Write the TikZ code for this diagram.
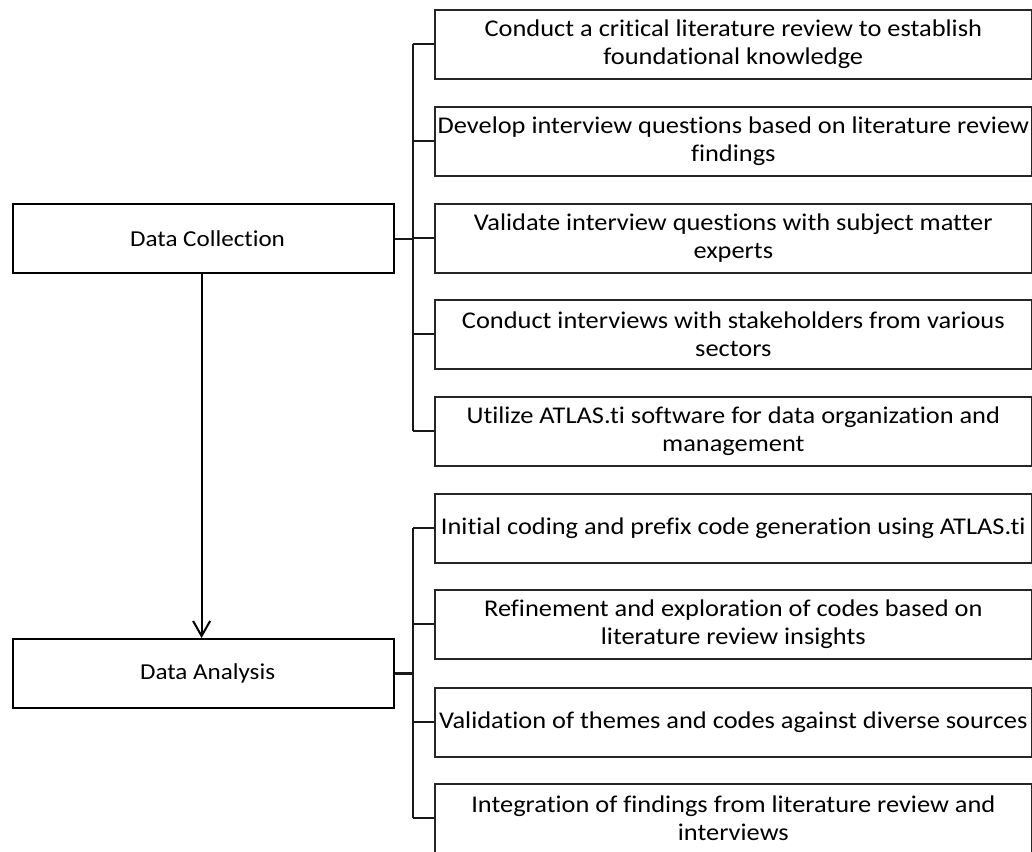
\documentclass[tikz,border=0pt]{standalone}
\usepackage{fontspec}
\setmainfont[FakeStretch=1.1, Ligatures={NoCommon}]{Carlito}
\usetikzlibrary{arrows.meta}
\tikzset{
  stagebox/.style={draw=black, line width=2.2pt, minimum width=381pt, minimum height=69pt,
    inner sep=0pt, anchor=north west, font=\fontsize{22.8}{28}\selectfont},
  taskbox/.style={draw=black!85, line width=1.6pt, minimum width=597pt, minimum height=69pt,
    inner sep=0pt, anchor=north west, align=center, font=\fontsize{24}{28}\selectfont},
  link/.style={draw=black!90, line width=1.8pt},
  flow/.style={draw=black, line width=2pt, -{Straight Barb[length=15pt,width=17pt,line width=2pt]}}
}
\begin{document}
\begin{tikzpicture}[x=1pt,y=-1pt]
\useasboundingbox (0,0) rectangle (1032,851);

% stages on the left
\node[stagebox] (dc) at (12,203) {\hspace{8pt}Data Collection};
\node[stagebox] (da) at (12,638) {\hspace{8pt}Data Analysis};

% tasks of the collection stage
\node[taskbox] (c1) at (434,9)   {Conduct a critical literature review to establish\\foundational knowledge};
\node[taskbox] (c2) at (434,106) {Develop interview questions based on literature review\\findings};
\node[taskbox] (c3) at (434,203) {Validate interview questions with subject matter\\experts};
\node[taskbox] (c4) at (434,299) {Conduct interviews with stakeholders from various\\sectors};
\node[taskbox] (c5) at (434,396) {Utilize ATLAS.ti software for data organization and\\management};

% tasks of the analysis stage
\node[taskbox] (a1) at (434,493) {Initial coding and prefix code generation using ATLAS.ti};
\node[taskbox] (a2) at (434,589) {Refinement and exploration of codes based on\\literature review insights};
\node[taskbox] (a3) at (434,687) {Validation of themes and codes against diverse sources};
\node[taskbox] (a4) at (434,783) {Integration of findings from literature review and\\interviews};

% vertical bus shared by each group
\coordinate (bus) at (413,0);

\draw[link] (c1.west -| bus) -- (c5.west -| bus);
\foreach \n in {c1,c2,c3,c4,c5} \draw[link] (\n.west) -- (\n.west -| bus);
\draw[link] (dc.east) -- (dc.east -| bus);

\draw[link] (a1.west -| bus) -- (a4.west -| bus);
\foreach \n in {a1,a2,a3,a4} \draw[link] (\n.west) -- (\n.west -| bus);
\draw[link, line width=2.6pt] (da.east) -- (da.east -| bus);

% flow between the stages
\draw[flow] ([xshift=-2pt]dc.south) -- ([xshift=-2pt]da.north);
\end{tikzpicture}
\end{document}
